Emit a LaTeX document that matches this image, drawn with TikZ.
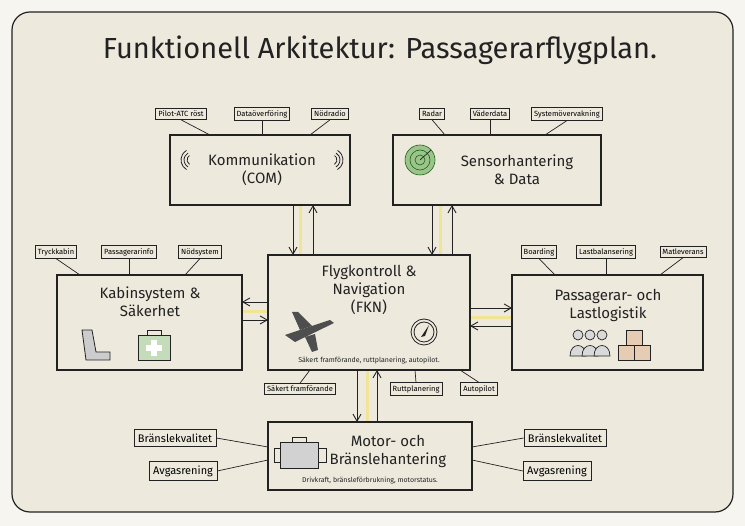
\documentclass[tikz,border=0pt]{standalone}
\usepackage{fontspec}
\setmainfont{Fira Sans}
\usetikzlibrary{arrows.meta}
\definecolor{bg}{HTML}{EDE9DD}
\definecolor{pg}{HTML}{F7F5EF}
\definecolor{ink}{HTML}{222222}
\definecolor{glow}{HTML}{F2E27A}
\definecolor{rgreen}{HTML}{9CC48A}
\begin{document}
\begin{tikzpicture}[x=1pt,y=-1pt,
  box/.style={draw=ink,line width=1.1pt,fill=bg},
  tag/.style={draw=ink,line width=0.7pt,fill=bg,font=\fontsize{7.5}{8}\selectfont,inner sep=2.5pt},
  big/.style={font=\fontsize{15}{18}\selectfont,align=center,text=ink},
  captxt/.style={font=\fontsize{7}{8}\selectfont,text=ink},
  arr/.style={-{Straight Barb[length=7pt,width=8pt]},line width=0.9pt,draw=ink},
  lk/.style={line width=0.7pt,draw=ink}]
\fill[pg] (0,0) rectangle (745,526);
\useasboundingbox (0,0) rectangle (745,526);
\draw[fill=bg,line width=1.2pt,draw=ink,rounded corners=18pt] (12,12) rectangle (733,512);
\node[font=\fontsize{29}{32}\selectfont,text=ink] (title) at (380,50) {Funktionell Arkitektur: Passagerarflygplan.};

% glow behind links
\begin{scope}[glow,line width=3pt,opacity=0.7]
\draw (300,205)--(300,255); \draw (440,205)--(440,255);
\draw (242,312)--(268,312); \draw (470,318)--(512,318);
\draw (367,370)--(367,422);
\end{scope}

% main boxes
\draw[box] (170,135) rectangle (350,205);
\draw[box] (393,135) rectangle (601,205);
\draw[box] (57,275) rectangle (242,370);
\draw[box] (268,255) rectangle (470,370);
\draw[box] (512,275) rectangle (703,370);
\draw[box] (268,422) rectangle (472,490);

\node[big] (com) at (262,170) {Kommunikation\\(COM)};
\node[big] (sen) at (517,170) {Sensorhantering\\\& Data};
\node[big] (kab) at (150,302) {Kabinsystem \&\\Säkerhet};
\node[big] (fkn) at (369,290) {Flygkontroll \&\\Navigation\\(FKN)};
\node[big] (pas) at (608,305) {Passagerar- och\\Lastlogistik};
\node[big] (mot) at (388,451) {Motor- och\\Bränslehantering};
\node[captxt] (fknc) at (369,361) {Säkert framförande, ruttplanering, autopilot.};
\node[captxt] (motc) at (370,481) {Drivkraft, bränsleförbrukning, motorstatus.};

% icons
\foreach \r in {5,8,11} {\draw[ink,line width=0.8pt] (192,160) ++(120:\r) arc (120:240:\r); \draw[ink,line width=0.8pt] (332,160) ++(60:\r) arc (60:-60:\r);}
\fill[rgreen] (420,160) circle (15);
\foreach \r in {5,10,15} \draw[ink!70!green,line width=0.6pt] (420,160) circle (\r);
\draw[ink,line width=0.7pt] (420,160)--(431,150);
\draw[ink,line width=0.8pt] (424,332) circle (13); \draw[ink,line width=0.8pt] (424,332) circle (10);
\fill[ink] (421,337)--(429,325)--(425,336)--cycle;
\fill[ink!80] (285,335)--(330,320)--(334,323)--(295,342)--cycle;
\fill[ink!80] (300,330)--(292,312)--(298,312)--(312,326)--cycle;
\fill[ink!80] (305,337)--(312,352)--(318,350)--(315,334)--cycle;
% seat & kit
\draw[ink,line width=0.8pt,fill=gray!40] (82,330)--(92,330)--(96,352)--(110,352)--(110,360)--(86,360)--cycle;
\draw[ink,line width=0.8pt,fill=rgreen!60] (138,335) rectangle (170,360);
\draw[ink,line width=0.8pt] (147,335)--(147,330)--(161,330)--(161,335);
\fill[white] (151,340) rectangle (157,356); \fill[white] (146,345) rectangle (162,351);
% people & boxes
\foreach \x in {578,590,602} {\draw[ink,line width=0.7pt,fill=gray!30] (\x,335) circle (5); \draw[ink,line width=0.7pt,fill=gray!30] (\x-8,356) .. controls (\x-8,342) and (\x+8,342) .. (\x+8,356)--cycle;}
\draw[ink,line width=0.7pt,fill=brown!40] (618,345) rectangle (634,360); \draw[ink,line width=0.7pt,fill=brown!40] (634,345) rectangle (650,360); \draw[ink,line width=0.7pt,fill=brown!40] (626,330) rectangle (642,345);
% engine
\draw[ink,line width=0.8pt,fill=gray!35] (280,442) rectangle (318,468); \draw[ink,line width=0.8pt] (292,442)--(292,437)--(306,437)--(306,442); \draw[ink,line width=0.8pt] (274,448) rectangle (280,462); \draw[ink,line width=0.8pt] (318,448) rectangle (326,462);

% tags
\node[tag] (t1) at (181,114) {Pilot-ATC röst};
\node[tag] (t2) at (262,114) {Dataöverföring};
\node[tag] (t3) at (330,114) {Nödradio};
\node[tag] (t4) at (432,114) {Radar};
\node[tag] (t5) at (490,114) {Väderdata};
\node[tag] (t6) at (567,114) {Systemövervakning};
\node[tag] (t7) at (56,252) {Tryckkabin};
\node[tag] (t8) at (129,252) {Passagerarinfo};
\node[tag] (t9) at (200,252) {Nödsystem};
\node[tag] (t10) at (539,252) {Boarding};
\node[tag] (t11) at (606,252) {Lastbalansering};
\node[tag] (t12) at (683,252) {Matleverans};
\node[tag] (t13) at (300,389) {Säkert framförande};
\node[tag] (t14) at (416,389) {Ruttplanering};
\node[tag] (t15) at (479,389) {Autopilot};
\node[tag,font=\fontsize{11}{12}\selectfont,inner sep=4pt] (b1) at (175,438) {Bränslekvalitet};
\node[tag,font=\fontsize{11}{12}\selectfont,inner sep=4pt] (a1) at (183,471) {Avgasrening};
\node[tag,font=\fontsize{11}{12}\selectfont,inner sep=4pt] (b2) at (565,438) {Bränslekvalitet};
\node[tag,font=\fontsize{11}{12}\selectfont,inner sep=4pt] (a2) at (557,471) {Avgasrening};

% tag links
\coordinate (c1) at (210,135); \coordinate (c2) at (262,135); \coordinate (c3) at (310,135);
\draw[lk] (t1.south)--(c1); \draw[lk] (t2.south)--(c2); \draw[lk] (t3.south)--(c3);
\coordinate (c4) at (445,135); \coordinate (c5) at (490,135); \coordinate (c6) at (545,135);
\draw[lk] (t4.south)--(c4); \draw[lk] (t5.south)--(c5); \draw[lk] (t6.south)--(c6);
\coordinate (c7) at (80,275); \coordinate (c8) at (129,275); \coordinate (c9) at (185,275);
\draw[lk] (t7.south)--(c7); \draw[lk] (t8.south)--(c8); \draw[lk] (t9.south)--(c9);
\coordinate (c10) at (555,275); \coordinate (c11) at (606,275); \coordinate (c12) at (660,275);
\draw[lk] (t10.south)--(c10); \draw[lk] (t11.south)--(c11); \draw[lk] (t12.south)--(c12);
\coordinate (c13) at (310,370); \coordinate (c14) at (415,370); \coordinate (c15) at (460,370);
\draw[lk] (t13.north)--(c13); \draw[lk] (t14.north)--(c14); \draw[lk] (t15.north)--(c15);
\coordinate (m1) at (268,447); \coordinate (m2) at (268,460); \coordinate (m3) at (472,447); \coordinate (m4) at (472,460);
\draw[lk] (b1.east)--(m1); \draw[lk] (a1.east)--(m2); \draw[lk] (b2.west)--(m3); \draw[lk] (a2.west)--(m4);

% arrows
\coordinate (p1) at (293,205); \coordinate (q1) at (293,255); \draw[arr] (p1)--(q1);
\coordinate (p2) at (313,255); \coordinate (q2) at (313,205); \draw[arr] (p2)--(q2);
\coordinate (p3) at (432,205); \coordinate (q3) at (432,255); \draw[arr] (p3)--(q3);
\coordinate (p4) at (452,255); \coordinate (q4) at (452,205); \draw[arr] (p4)--(q4);
\coordinate (p5) at (268,302); \coordinate (q5) at (242,302); \draw[arr] (p5)--(q5);
\coordinate (p6) at (242,320); \coordinate (q6) at (268,320); \draw[arr] (p6)--(q6);
\coordinate (p7) at (470,308); \coordinate (q7) at (512,308); \draw[arr] (p7)--(q7);
\coordinate (p8) at (512,326); \coordinate (q8) at (470,326); \draw[arr] (p8)--(q8);
\coordinate (p9) at (357,370); \coordinate (q9) at (357,422); \draw[arr] (p9)--(q9);
\coordinate (p10) at (377,422); \coordinate (q10) at (377,370); \draw[arr] (p10)--(q10);
\end{tikzpicture}
\end{document}
